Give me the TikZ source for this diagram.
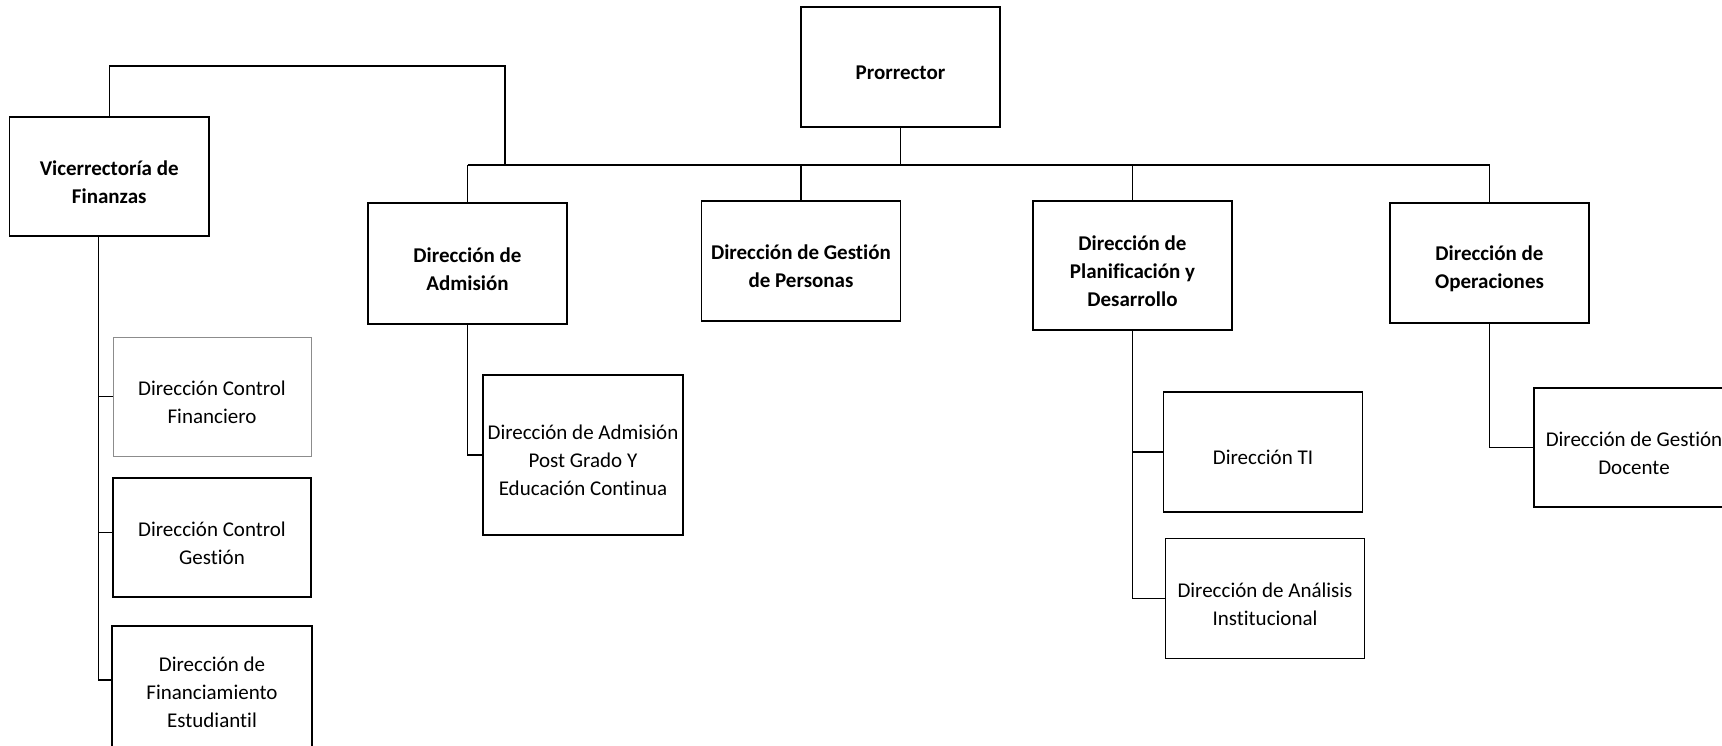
\documentclass[tikz,border=0pt]{standalone}
\usepackage{fontspec}
\setmainfont{Carlito}[Ligatures={NoCommon}]
\begin{document}
\begin{tikzpicture}[x=1pt,y=-1pt,
  box/.style={draw=black,line width=1.8pt,inner sep=0pt,outer sep=0pt,
    minimum width=199pt,minimum height=120pt},
  thinbox/.style={box,line width=1.1pt},
  greybox/.style={box,draw=black!45,line width=0.9pt},
  txt/.style={align=center,inner sep=0pt,yshift=-5.5pt,font=\fontsize{21}{28}\selectfont},
  btxt/.style={txt,font=\fontsize{21}{28}\selectfont\bfseries},
  conn/.style={draw=black,line width=1.2pt},
  mainbar/.style={draw=black,line width=1.8pt}]
\useasboundingbox (0,0) rectangle (1722,746);

% top level
\node[box,label={[btxt]center:{Prorrector}}] (pro) at (900.5,67) {};
\node[box,minimum width=199.5pt,minimum height=119pt,
  label={[btxt]center:{Vicerrector\'ia de\\Finanzas}}] (vice) at (109.25,176.5) {};
\node[box,minimum height=121pt,
  label={[btxt]center:{Direcci\'on de\\Admisi\'on}}] (adm) at (467.5,263.5) {};
\node[thinbox,label={[btxt]center:{Direcci\'on de Gesti\'on\\de Personas}}] (gp) at (801,261) {};
\node[box,minimum height=129pt,
  label={[btxt]center:{Direcci\'on de\\Planificaci\'on y\\Desarrollo}}] (plan) at (1132.5,265.5) {};
\node[box,label={[btxt]center:{Direcci\'on de\\Operaciones}}] (ope) at (1489.5,263) {};

% children of Vicerrectoria
\node[greybox,minimum width=198pt,minimum height=119pt,
  label={[txt]center:{Direcci\'on Control\\Financiero}}] (cf) at (212,396.5) {};
\node[box,minimum width=198pt,minimum height=119pt,
  label={[txt]center:{Direcci\'on Control\\Gesti\'on}}] (cg) at (212,537.5) {};
\node[box,minimum width=200pt,minimum height=122pt,
  label={[txt]center:{Direcci\'on de\\Financiamiento\\Estudiantil}}] (fe) at (212,687) {};

% child of Admision
\node[box,minimum width=200pt,minimum height=160pt,
  label={[txt]center:{Direcci\'on de Admisi\'on\\Post Grado Y\\Educaci\'on Continua}}] (pg) at (583,455) {};

% children of Planificacion
\node[thinbox,label={[txt]center:{Direcci\'on TI}}] (ti) at (1263,452) {};
\node[box,label={[txt]center:{Direcci\'on de An\'alisis\\Institucional}}] (ai) at (1265,598.5) {};

% child of Operaciones
\node[box,minimum width=200pt,minimum height=119pt,
  label={[txt]center:{Direcci\'on de Gesti\'on\\Docente}}] (gd) at (1634,447.5) {};

% main bar
\coordinate (barL) at (467.5,165);
\coordinate (barR) at (1490,165);
\draw[mainbar] (barL) -- (barR);
\draw[conn] (pro.south) -- (pro.south |- barL);
\draw[conn] (adm.north) -- (adm.north |- barL);
\draw[conn] (gp.north) -- (gp.north |- barL);
\draw[conn] (plan.north) -- (plan.north |- barL);
\draw[conn] (ope.north) -- (ope.north |- barL);

% link Vicerrectoria to bar
\coordinate (vk) at (505,66);
\draw[conn] (vice.north) |- (vk) -- (vk |- barL);

% Vicerrectoria trunk
\coordinate (vt) at ([xshift=-11pt]vice.south);
\draw[conn] (vt) |- ([yshift=7pt]fe.west);
\draw[conn] (vt) |- (cf.west);
\draw[conn] (vt) |- ([yshift=5pt]cg.west);

% Admision child
\draw[conn] (adm.south) |- (pg.west);

% Planificacion children
\draw[conn] (plan.south) |- (ti.west);
\draw[conn] (plan.south) |- (ai.west);

% Operaciones child
\draw[conn] (ope.south) |- (gd.west);
\end{tikzpicture}
\end{document}
